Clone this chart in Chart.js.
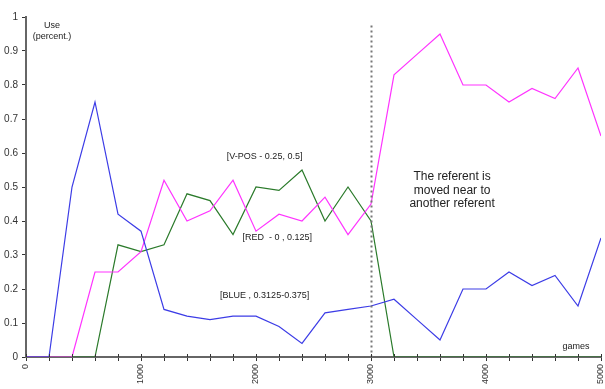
<!DOCTYPE html>
<html>
<head>
<meta charset="utf-8">
<script src="https://cdn.jsdelivr.net/npm/chart.js@4"></script>
<style>
  html, body { margin: 0; padding: 0; background: #fff; }
  #wrap { width: 605px; height: 389px; position: relative; }
</style>
</head>
<body>
<div id="wrap"><canvas id="useChart"></canvas></div>
<script>
// games played (x) and share of use per strategy
const games = [0, 200, 400, 600, 800, 1000, 1200, 1400, 1600, 1800, 2000, 2200, 2400,
               2600, 2800, 3000, 3200, 3400, 3600, 3800, 4000, 4200, 4400, 4600, 4800, 5000];
const blueUse = [0, 0, 0.50, 0.75, 0.42, 0.37, 0.14, 0.12, 0.11, 0.12, 0.12, 0.09, 0.04,
                 0.13, 0.14, 0.15, 0.17, 0.11, 0.05, 0.20, 0.20, 0.25, 0.21, 0.24, 0.15, 0.35];
const redUse = [0, 0, 0, 0.25, 0.25, 0.31, 0.52, 0.40, 0.43, 0.52, 0.37, 0.42, 0.40,
                0.47, 0.36, 0.45, 0.83, 0.89, 0.95, 0.80, 0.80, 0.75, 0.79, 0.76, 0.85, 0.65];
const vposUse = [0, 0, 0, 0, 0.33, 0.31, 0.33, 0.48, 0.46, 0.36, 0.50, 0.49, 0.55,
                 0.40, 0.50, 0.40, 0, 0, 0, 0, 0, 0, 0, 0, 0, 0];

const changeAt = 3000;   // referent moved here
const FONT = 'Arial, "Liberation Sans", sans-serif';

// free text labels, placed in data coordinates
const notes = [
  { x: 2075, y: 0.59, size: 9, lines: ['[V-POS - 0.25, 0.5]'] },
  { x: 2185, y: 0.35, size: 9, lines: ['[RED  - 0 , 0.125]'] },
  { x: 2075, y: 0.18, size: 9, lines: ['[BLUE , 0.3125-0.375]'] },
  { x: 3705, y: 0.49, size: 12, lines: ['The referent is', 'moved near to', 'another referent'] },
];

const pts = ys => games.map((g, i) => ({ x: g, y: ys[i] }));

const extras = {
  id: 'extras',
  afterDatasetsDraw(chart) {
    const { ctx, chartArea, scales: { x, y } } = chart;
    ctx.save();

    // dotted marker line
    const px = Math.round(x.getPixelForValue(changeAt)) + 0.5;
    ctx.strokeStyle = '#777';
    ctx.lineWidth = 2;
    ctx.setLineDash([2, 3]);
    ctx.beginPath();
    ctx.moveTo(px, y.getPixelForValue(0.975));
    ctx.lineTo(px, chartArea.bottom);
    ctx.stroke();
    ctx.setLineDash([]);

    // x ticks poke a little above the axis
    ctx.strokeStyle = '#333';
    ctx.lineWidth = 1;
    x.ticks.forEach((t, i) => {
      const tx = Math.round(x.getPixelForTick(i)) + 0.5;
      ctx.beginPath();
      ctx.moveTo(tx, chartArea.bottom - 3);
      ctx.lineTo(tx, chartArea.bottom);
      ctx.stroke();
    });

    ctx.fillStyle = '#222';
    ctx.textAlign = 'center';
    ctx.textBaseline = 'middle';
    notes.forEach(n => {
      ctx.font = n.size + 'px ' + FONT;
      const cx = x.getPixelForValue(n.x);
      const cy = y.getPixelForValue(n.y);
      const lh = n.size + 1.5;
      n.lines.forEach((l, k) => ctx.fillText(l, cx, cy + (k - (n.lines.length - 1) / 2) * lh));
    });

    // axis titles
    ctx.font = '9px ' + FONT;
    ctx.fillText('Use', 52, 26);
    ctx.fillText('(percent.)', 52, 37);
    ctx.fillText('games', 576, 347);
    ctx.restore();
  }
};

new Chart(document.getElementById('useChart'), {
  type: 'line',
  data: {
    datasets: [
      { label: 'BLUE', data: pts(blueUse), borderColor: '#3c3ce6', borderWidth: 1.2 },
      { label: 'RED', data: pts(redUse), borderColor: '#ff33ff', borderWidth: 1.2 },
      { label: 'V-POS', data: pts(vposUse), borderColor: '#2a7a2a', borderWidth: 1.2 }
    ]
  },
  options: {
    responsive: true, maintainAspectRatio: false,
    animation: false,
    elements: { point: { radius: 0 }, line: { tension: 0 } },
    layout: { padding: { top: 17, right: 4, left: 0, bottom: 0 } },
    plugins: { legend: { display: false }, tooltip: { enabled: false } },
    scales: {
      x: {
        type: 'linear', min: 0, max: 5000,
        border: { display: true, color: '#666', width: 2 },
        grid: { drawOnChartArea: false, drawTicks: true, tickLength: 4, color: '#333' },
        ticks: {
          stepSize: 200, autoSkip: false, maxRotation: 90, minRotation: 90,
          color: '#333', font: { family: FONT, size: 9 }, padding: 3,
          callback: v => (v % 1000 === 0 ? String(v) : '')
        },
        afterFit: s => { s.height = 32; s.paddingLeft = 0; s.paddingRight = 0; }
      },
      y: {
        min: 0, max: 1,
        border: { display: true, color: '#666', width: 2 },
        grid: { drawOnChartArea: false, drawTicks: true, tickLength: 4, color: '#333' },
        ticks: {
          stepSize: 0.1, color: '#333', font: { family: FONT, size: 10 }, padding: 4,
          callback: v => String(Math.round(v * 10) / 10)
        },
        afterFit: s => { s.width = 26; s.paddingTop = 0; s.paddingBottom = 0; }
      }
    }
  },
  plugins: [extras]
});
</script>
</body>
</html>
